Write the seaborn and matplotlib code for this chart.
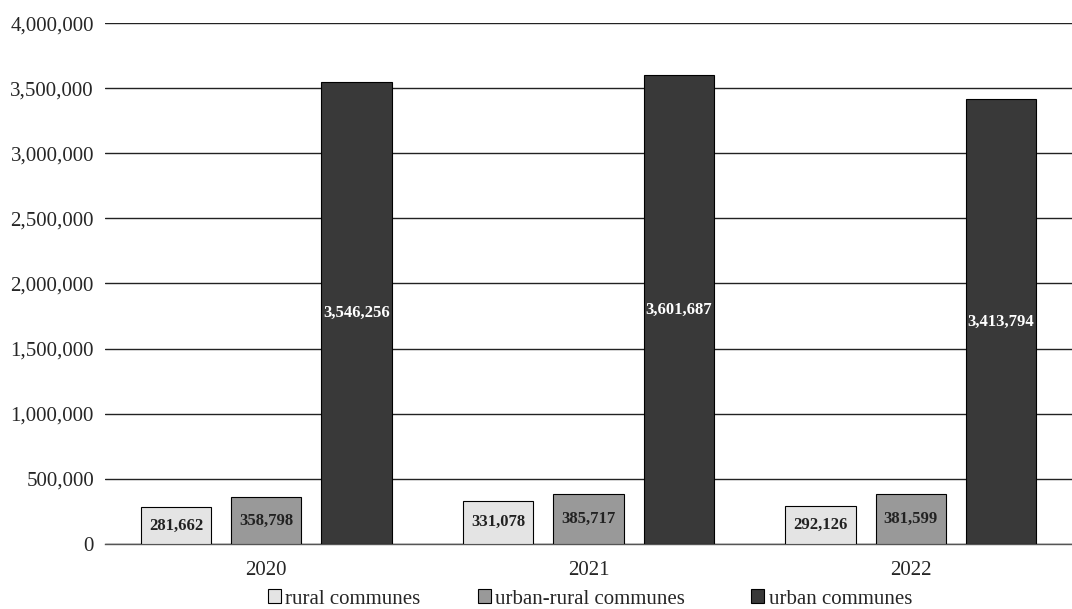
import matplotlib
matplotlib.use("Agg")
import matplotlib.pyplot as plt
import seaborn as sns
import pandas as pd
from matplotlib.patches import Patch

years = ["2020", "2021", "2022"]
categories = ["rural communes", "urban-rural communes", "urban communes"]
rural = [281662, 331078, 292126]
urban_rural = [358798, 385717, 381599]
urban = [3546256, 3601687, 3413794]
colors = ["#e4e4e4", "#999999", "#393939"]
label_colors = ["#222222", "#222222", "#ffffff"]

df = pd.DataFrame({
    "year": years * 3,
    "type": [categories[0]] * 3 + [categories[1]] * 3 + [categories[2]] * 3,
    "value": rural + urban_rural + urban,
})

sns.set_theme(style="white")
plt.rcParams["font.family"] = ["Liberation Serif", "DejaVu Serif"]

fig = plt.figure(figsize=(10.72, 6.09), dpi=100)
ax = fig.add_axes([0.098, 0.107, 0.902, 0.855])

sns.barplot(data=df, x="year", y="value", hue="type", hue_order=categories,
            palette=colors, width=0.84, gap=0.22, edgecolor="black",
            linewidth=0.8, ax=ax, legend=False, zorder=3)

ax.set_ylim(0, 4000000)
ax.set_yticks(range(0, 4000001, 500000))
ax.set_yticklabels([f"{v:,}" for v in range(0, 4000001, 500000)], fontsize=15)
ax.tick_params(axis="x", labelsize=15, length=0, pad=12)
ax.tick_params(axis="y", length=0, pad=8)
ax.yaxis.grid(True, color="#222222", linewidth=1.0, zorder=0)
ax.set_axisbelow(True)
for s in ["top", "right", "left"]:
    ax.spines[s].set_visible(False)
ax.spines["bottom"].set_color("#555555")
ax.spines["bottom"].set_linewidth(1.0)
ax.set_xlabel("")
ax.set_ylabel("")

for cont, lc in zip(ax.containers, label_colors):
    ax.bar_label(cont, labels=[f"{int(v):,}" for v in cont.datavalues],
                 label_type="center", color=lc, fontsize=12, fontweight="bold")

# legend entries laid out in fixed-width slots along the bottom edge
slot_left = [0.250, 0.446, 0.701]
for cat, col, x0 in zip(categories, colors, slot_left):
    h = Patch(facecolor=col, edgecolor="black", linewidth=0.8)
    leg = fig.legend([h], [cat], loc="center left", bbox_to_anchor=(x0, 0.0164),
                     frameon=False, fontsize=15, handlelength=0.62, handleheight=0.62,
                     handletextpad=0.2, borderpad=0, borderaxespad=0)

fig.savefig("out.png", dpi=100)
